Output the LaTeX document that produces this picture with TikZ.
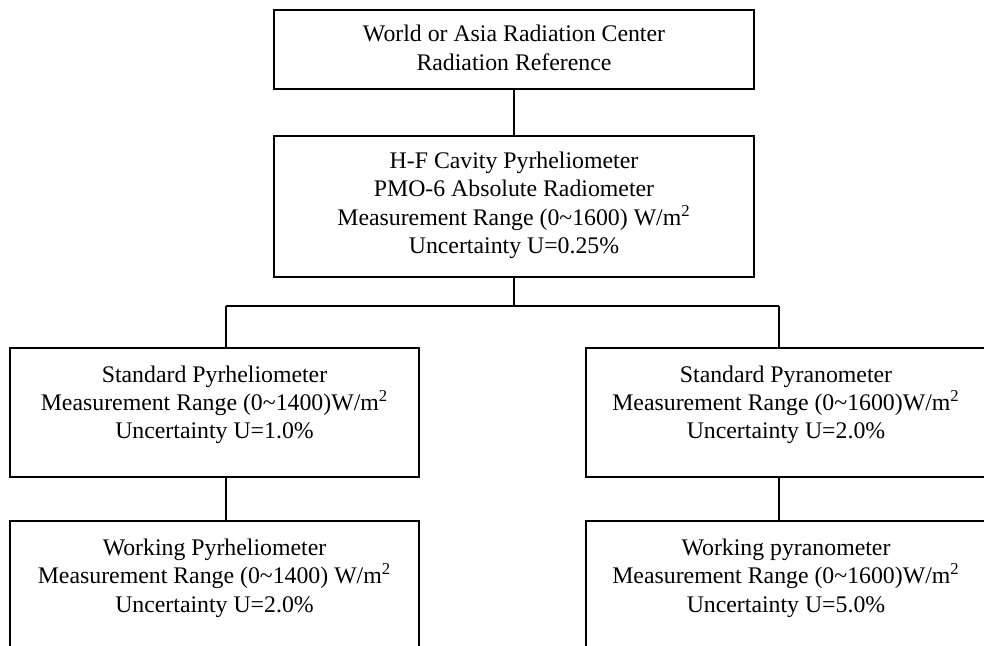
\documentclass[tikz,border=0pt]{standalone}
\usepackage{fontspec}
\setmainfont{Liberation Serif}
\newcommand{\boxlines}[1]{\begin{tabular}[t]{@{}c@{}}#1\end{tabular}}
\newcommand{\wm}{W/m\textsuperscript{2}}
\tikzset{
  unit/.style={draw,rectangle,inner sep=0pt,line width=1pt,
    font=\fontsize{11.9}{14.25}\selectfont},
  lowunit/.style={unit,minimum width=#1,text height=17pt,text depth=47.5pt},
  link/.style={line width=0.8pt}
}
\begin{document}
\begin{tikzpicture}[x=0.5pt,y=-0.5pt]
\useasboundingbox (0,0) rectangle (984,646);
%\draw[help lines] (0,0) grid[step=50] (984,646);
\node[unit,minimum width=240pt,text height=15.85pt,text depth=23.65pt] (wrc) at (514,49.5)
  {\boxlines{World or Asia Radiation Center\\ Radiation Reference}};
\node[unit,minimum width=240pt,text height=16.2pt,text depth=54.3pt] (cavity) at (514,206.5)
  {\boxlines{H-F Cavity Pyrheliometer\\ PMO-6 Absolute Radiometer\\
   Measurement Range (0\textasciitilde1600) \wm\\ Uncertainty U=0.25\%}};
\node[lowunit=204.5pt] (stdpyrh) at (214.5,412.5)
  {\boxlines{Standard Pyrheliometer\\
   Measurement Range (0\textasciitilde1400)\wm\\ Uncertainty U=1.0\%}};
\node[lowunit=200pt] (stdpyra) at (786,412.5)
  {\boxlines{Standard Pyranometer\\
   Measurement Range (0\textasciitilde1600)\wm\\ Uncertainty U=2.0\%}};
\node[lowunit=204.5pt] (wrkpyrh) at (214.5,585.5)
  {\boxlines{Working Pyrheliometer\\
   Measurement Range (0\textasciitilde1400) \wm\\ Uncertainty U=2.0\%}};
\node[lowunit=200pt] (wrkpyra) at (786,585.5)
  {\boxlines{Working pyranometer\\
   Measurement Range (0\textasciitilde1600)\wm\\ Uncertainty U=5.0\%}};
% tree lines
\coordinate (split) at (514,306);
\coordinate (jl) at (226,306);
\coordinate (jr) at (779,306);
\draw[link] (wrc) -- (cavity);
\draw[link] (cavity.south) -- (split);
\draw[link] (jl) -- (jr);
\draw[link] (jl) -- (jl |- stdpyrh.north);
\draw[link] (jr) -- (jr |- stdpyra.north);
\draw[link] (jl |- stdpyrh.south) -- (jl |- wrkpyrh.north);
\draw[link] (jr |- stdpyra.south) -- (jr |- wrkpyra.north);
\end{tikzpicture}
\end{document}
